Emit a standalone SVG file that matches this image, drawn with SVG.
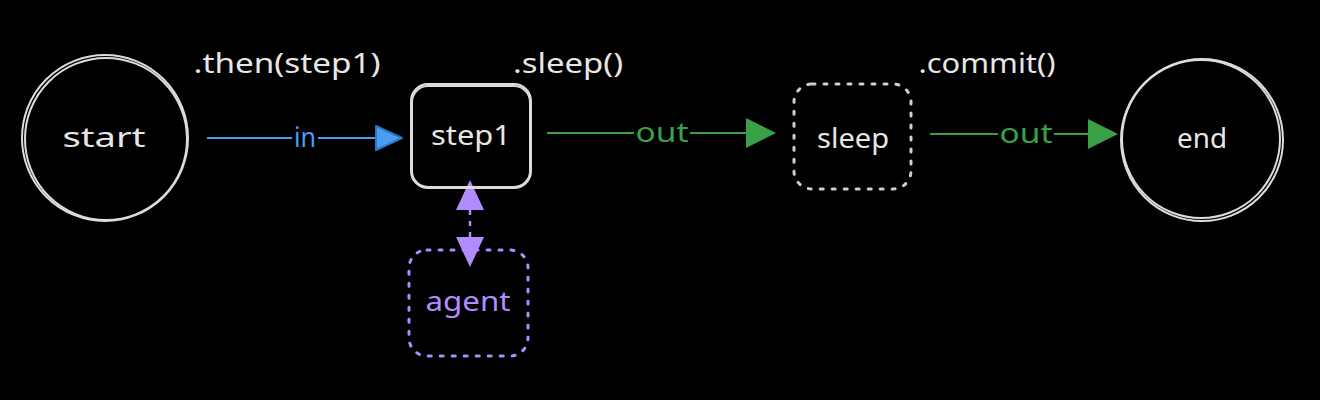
<svg xmlns="http://www.w3.org/2000/svg" width="1320" height="400" viewBox="0 0 1320 400">
<style>
text{font-family:"Noto Sans","Liberation Sans",sans-serif;font-size:28px;text-anchor:middle;dominant-baseline:central}
.w{fill:#e6e6e6}
.node{fill:none;stroke:#dcdcdc;stroke-width:2}
.dash{stroke-dasharray:3 9;stroke-linecap:round}
.b{fill:#4a9eed}.g{fill:#39a047}.p{fill:#b08cff}
</style>
<rect width="1320" height="400" fill="#000"/>
<g id="labels">
<text class="w" x="287" y="62" textLength="187" lengthAdjust="spacingAndGlyphs">.then(step1)</text>
<text class="w" x="568" y="62" textLength="110" lengthAdjust="spacingAndGlyphs">.sleep()</text>
<text class="w" x="987" y="62" textLength="137" lengthAdjust="spacingAndGlyphs">.commit()</text>
</g>
<g id="connectors">
<line x1="207" y1="138" x2="376" y2="138" stroke="#4a9eed" stroke-width="2"/>
<polygon points="376,126 402,138 376,150" fill="#4a9eed" stroke="#2a78c4" stroke-width="2" stroke-linejoin="round"/>
<rect x="292" y="124" width="26" height="28" fill="#000"/>
<text class="b" x="305" y="136" textLength="22" lengthAdjust="spacingAndGlyphs">in</text>
<line x1="547" y1="133" x2="748" y2="133" stroke="#39a047" stroke-width="2"/>
<polygon points="746,118 776,133 746,148" fill="#39a047"/>
<rect x="634" y="118" width="56" height="28" fill="#000"/>
<text class="g" x="662" y="131" textLength="53" lengthAdjust="spacingAndGlyphs">out</text>
<line x1="930" y1="134" x2="1090" y2="134" stroke="#39a047" stroke-width="2"/>
<polygon points="1088,119 1118,134 1088,149" fill="#39a047"/>
<rect x="998" y="119" width="56" height="28" fill="#000"/>
<text class="g" x="1026" y="132" textLength="53" lengthAdjust="spacingAndGlyphs">out</text>
<line x1="470" y1="210" x2="470" y2="238" stroke="#b08cff" stroke-width="2.5" stroke-dasharray="5 6"/>
<polygon points="470,180 484,210 456,210" fill="#b08cff"/>
<polygon points="456,237 484,237 470,267" fill="#b08cff"/>
</g>
<g id="start">
<circle class="node" cx="105" cy="138" r="83"/>
<circle class="node" cx="106" cy="139" r="81" stroke-width="1.2"/>
<text class="w" x="104" y="136" textLength="83" lengthAdjust="spacingAndGlyphs">start</text>
</g>
<g id="step1">
<rect class="node" x="411" y="84" width="120" height="104" rx="17"/>
<rect class="node" x="412" y="86" width="118" height="101" rx="16" stroke-width="1.2"/>
<text class="w" x="471" y="134" textLength="80" lengthAdjust="spacingAndGlyphs">step1</text>
</g>
<g id="agent">
<rect class="dash" x="409" y="250" width="119" height="106" rx="18" fill="none" stroke="#b08cff" stroke-width="3"/>
<text class="p" x="468" y="300" textLength="85" lengthAdjust="spacingAndGlyphs">agent</text>
</g>
<g id="sleep">
<rect class="dash" x="794" y="84" width="117" height="105" rx="18" fill="none" stroke="#cfcfcf" stroke-width="3"/>
<text class="w" x="853" y="137" textLength="72" lengthAdjust="spacingAndGlyphs">sleep</text>
</g>
<g id="end">
<circle class="node" cx="1202" cy="140" r="81"/>
<circle class="node" cx="1201" cy="139" r="79" stroke-width="1.2"/>
<text class="w" x="1202" y="137" textLength="50" lengthAdjust="spacingAndGlyphs">end</text>
</g>
</svg>
